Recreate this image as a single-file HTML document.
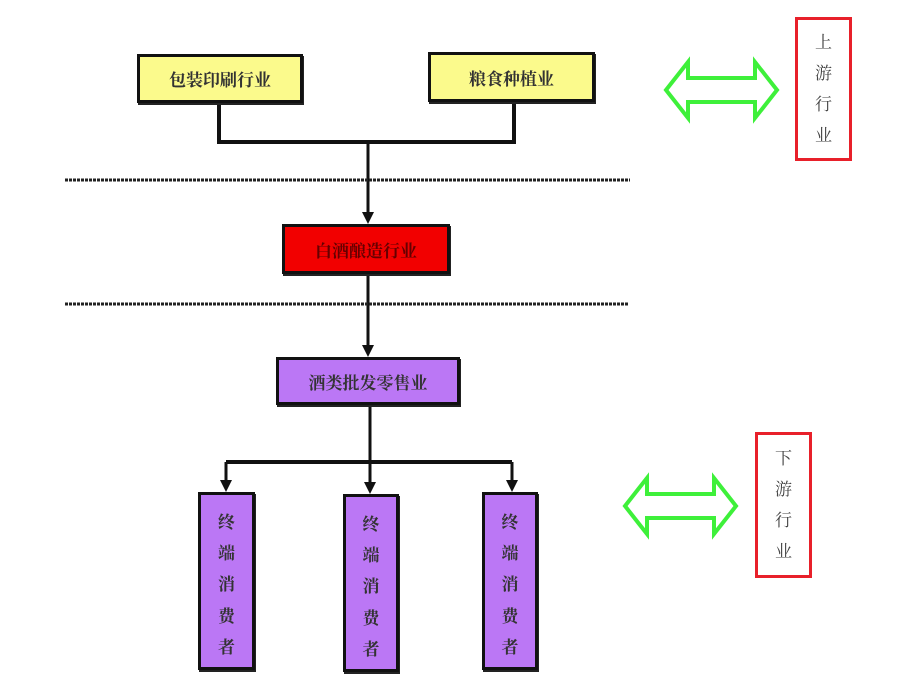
<!DOCTYPE html>
<html><head><meta charset="utf-8"><style>
body{margin:0;background:#fff;width:912px;height:698px;overflow:hidden;position:relative;font-family:"Liberation Serif","Noto Serif CJK SC",serif}
.b{position:absolute;box-sizing:border-box;border:3px solid #111;display:flex;align-items:center;justify-content:center;font-size:17px;font-weight:bold;color:#333;box-shadow:1px 2px 0 #222}
.y{background:#fbfa8c}.r{background:#f20000;color:#600}.p{background:#bb77f5}
.v{flex-direction:column;justify-content:space-around;padding:12px 0 4px;line-height:1}
.rb{position:absolute;box-sizing:border-box;border:3px solid #e8202a;background:#fff;display:flex;flex-direction:column;align-items:center;justify-content:center;font-size:17px;color:#444;line-height:31px}
</style></head><body>
<svg width="912" height="698" style="position:absolute;left:0;top:0">
<g stroke="#111" stroke-width="4" fill="none">
<polyline points="219,103 219,142 514,142 514,102"/>
</g>
<g stroke="#111" stroke-width="3">
<line x1="368" y1="142" x2="368" y2="214"/>
<line x1="368" y1="274" x2="368" y2="347"/>
<line x1="370" y1="405" x2="370" y2="484"/>
<line x1="226" y1="462" x2="512" y2="462" stroke-width="4"/>
<line x1="226" y1="462" x2="226" y2="484"/>
<line x1="512" y1="462" x2="512" y2="484"/>
</g>
<g fill="#111">
<path d="M362,212 L374,212 L368,224z"/><path d="M362,345 L374,345 L368,357z"/>
<path d="M364,482 L376,482 L370,494z"/><path d="M220,480 L232,480 L226,492z"/><path d="M506,480 L518,480 L512,492z"/>
</g>
<line x1="65" y1="180" x2="630" y2="180" stroke="#222" stroke-width="3" stroke-dasharray="3 1"/>
<line x1="65" y1="304" x2="628" y2="304" stroke="#222" stroke-width="3" stroke-dasharray="3 1"/>
<path d="M666,90 L688,62 L688,78 L755,78 L755,62 L777,90 L755,118 L755,102 L688,102 L688,118z" fill="#fff" stroke="#3ef03a" stroke-width="4"/>
<path d="M625,506 L647,478 L647,494 L714,494 L714,478 L736,506 L714,534 L714,518 L647,518 L647,534z" fill="#fff" stroke="#3ef03a" stroke-width="4"/>
</svg>
<div class="b y" style="left:137px;top:54px;width:166px;height:49px">包装印刷行业</div>
<div class="b y" style="left:428px;top:52px;width:167px;height:50px">粮食种植业</div>
<div class="b r" style="left:282px;top:224px;width:168px;height:50px">白酒酿造行业</div>
<div class="b p" style="left:276px;top:357px;width:184px;height:48px">酒类批发零售业</div>
<div class="b p v" style="left:198px;top:492px;width:57px;height:178px"><span>终</span><span>端</span><span>消</span><span>费</span><span>者</span></div>
<div class="b p v" style="left:343px;top:494px;width:56px;height:178px"><span>终</span><span>端</span><span>消</span><span>费</span><span>者</span></div>
<div class="b p v" style="left:482px;top:492px;width:56px;height:178px"><span>终</span><span>端</span><span>消</span><span>费</span><span>者</span></div>
<div class="rb" style="left:795px;top:17px;width:57px;height:144px"><span>上</span><span>游</span><span>行</span><span>业</span></div>
<div class="rb" style="left:755px;top:432px;width:57px;height:146px"><span>下</span><span>游</span><span>行</span><span>业</span></div>
</body></html>
